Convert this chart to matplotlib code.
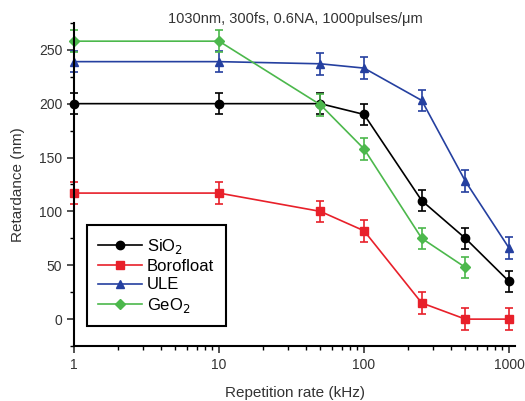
import matplotlib
matplotlib.use("Agg")
import matplotlib.pyplot as plt
from matplotlib.lines import Line2D
from matplotlib.ticker import AutoMinorLocator, LogLocator, NullFormatter

# Wiederholrate in kHz
rate = [1, 10, 50, 100, 250, 500, 1000]
rate_geo2 = [1, 10, 50, 100, 250, 500]

sio2 = [200, 200, 200, 190, 110, 75, 35]
borofloat = [117, 117, 100, 82, 15, 0, 0]
ule = [239, 239, 237, 233, 203, 128, 66]
geo2 = [258, 258, 199, 158, 75, 48]
err = 10

plt.rcParams['font.family'] = ['Liberation Sans', 'DejaVu Sans']

fig = plt.figure(figsize=(5.25, 4.01), dpi=100)
ax = fig.add_axes([0.141, 0.137, 0.840, 0.806])

serien = [
    (rate, sio2, "#000000", "o", "SiO$_2$"),
    (rate, borofloat, "#e8202a", "s", "Borofloat"),
    (rate, ule, "#2540a0", "^", "ULE"),
    (rate_geo2, geo2, "#4cb84c", "D", "GeO$_2$"),
]
handles = []
for x, y, farbe, marker, name in serien:
    ms = 6 if marker != "D" else 5
    ax.errorbar(x, y, yerr=err, color=farbe, marker=marker, ms=ms,
                lw=1.2, elinewidth=1.2, capsize=3, capthick=1.2, clip_on=False)
    # Legende ohne Fehlerbalken
    handles.append(Line2D([], [], color=farbe, marker=marker, ms=ms, lw=1.2, label=name))

ax.set_xscale("log")
ax.set_xlim(1, 1100)
ax.set_ylim(-25, 275)
ax.set_yticks([0, 50, 100, 150, 200, 250])
ax.yaxis.set_minor_locator(AutoMinorLocator(2))
ax.xaxis.set_minor_locator(LogLocator(base=10, subs=range(2, 10)))
ax.xaxis.set_minor_formatter(NullFormatter())
ax.set_xticks([1, 10, 100, 1000])
ax.set_xticklabels(["1", "10", "100", "1000"])

for s in ["top", "right"]:
    ax.spines[s].set_visible(False)
for s in ["left", "bottom"]:
    ax.spines[s].set_linewidth(1.5)
ax.tick_params(which="major", direction="out", length=5, width=1.2, labelsize=10, colors="#333333")
ax.tick_params(which="minor", direction="out", length=3, width=1.0)

ax.set_xlabel("Repetition rate (kHz)", fontsize=11, color="#333333", labelpad=10)
ax.set_ylabel("Retardance (nm)", fontsize=11, color="#333333", labelpad=10)
fig.text(0.562, 0.942, "1030nm, 300fs, 0.6NA, 1000pulses/\u03bcm", ha="center", fontsize=10.5, color="#333333")

leg = ax.legend(handles=handles, loc="lower left", bbox_to_anchor=(0.01, 0.035), fancybox=False,
                framealpha=1, edgecolor="black", fontsize=12, handlelength=2.6, borderpad=0.7,
                labelspacing=0.2, handletextpad=0.3)
leg.get_frame().set_linewidth(1.5)

fig.savefig("out.png", dpi=100)
plt.close()
